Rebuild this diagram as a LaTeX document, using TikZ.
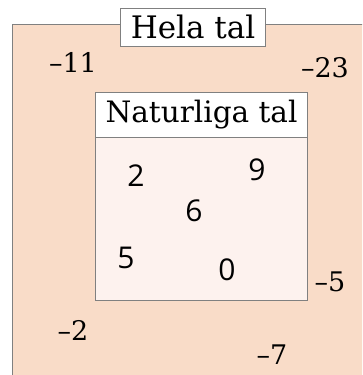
\documentclass[tikz,border=0pt]{standalone}
\usepackage{fontspec}
\setmainfont{DejaVu Serif}
\newfontfamily\talfont{Open Sans}
\definecolor{yttre}{HTML}{F9DCC8}
\definecolor{inre}{HTML}{FDF2EE}
\begin{document}
\begin{tikzpicture}[x=1pt,y=-1pt,font=\fontsize{27}{32}\selectfont,
	rubrik/.style={draw=gray,fill=white,line width=1pt,inner sep=1pt},
	tal/.style={font=\talfont\fontsize{30}{34}\selectfont}]
			\useasboundingbox (0,0) rectangle (362,375);
			\clip (0,0) rectangle (362,375);
			\fill[white](0,0)rectangle(362,375);
			\draw[gray,fill=yttre,line width=1pt](12,24)rectangle(380,390);
			\node[rubrik,minimum width=145,minimum height=38] (hela) at (193,27) {\fontsize{31}{34}\selectfont Hela tal};
			\draw[gray,fill=inre,line width=1pt](95,92)rectangle(307,300);
			\node[rubrik,minimum width=212,minimum height=45,anchor=north west] (nat) at (95,92) {\fontsize{29.5}{33}\selectfont Naturliga tal};
			\node (a) at (73,62) {–11};
			\node (b) at (325,68) {–23};
			\node (c) at (330,282) {–5};
			\node (d) at (73,330) {–2};
			\node (e) at (272,355) {–7};
			\node[tal] (f) at (136,176) {2};
			\node[tal] (g) at (257,170) {9};
			\node[tal] (h) at (194,211) {6};
			\node[tal] (i) at (126,258) {5};
			\node[tal] (j) at (227,270) {0};
		\end{tikzpicture}
\end{document}
